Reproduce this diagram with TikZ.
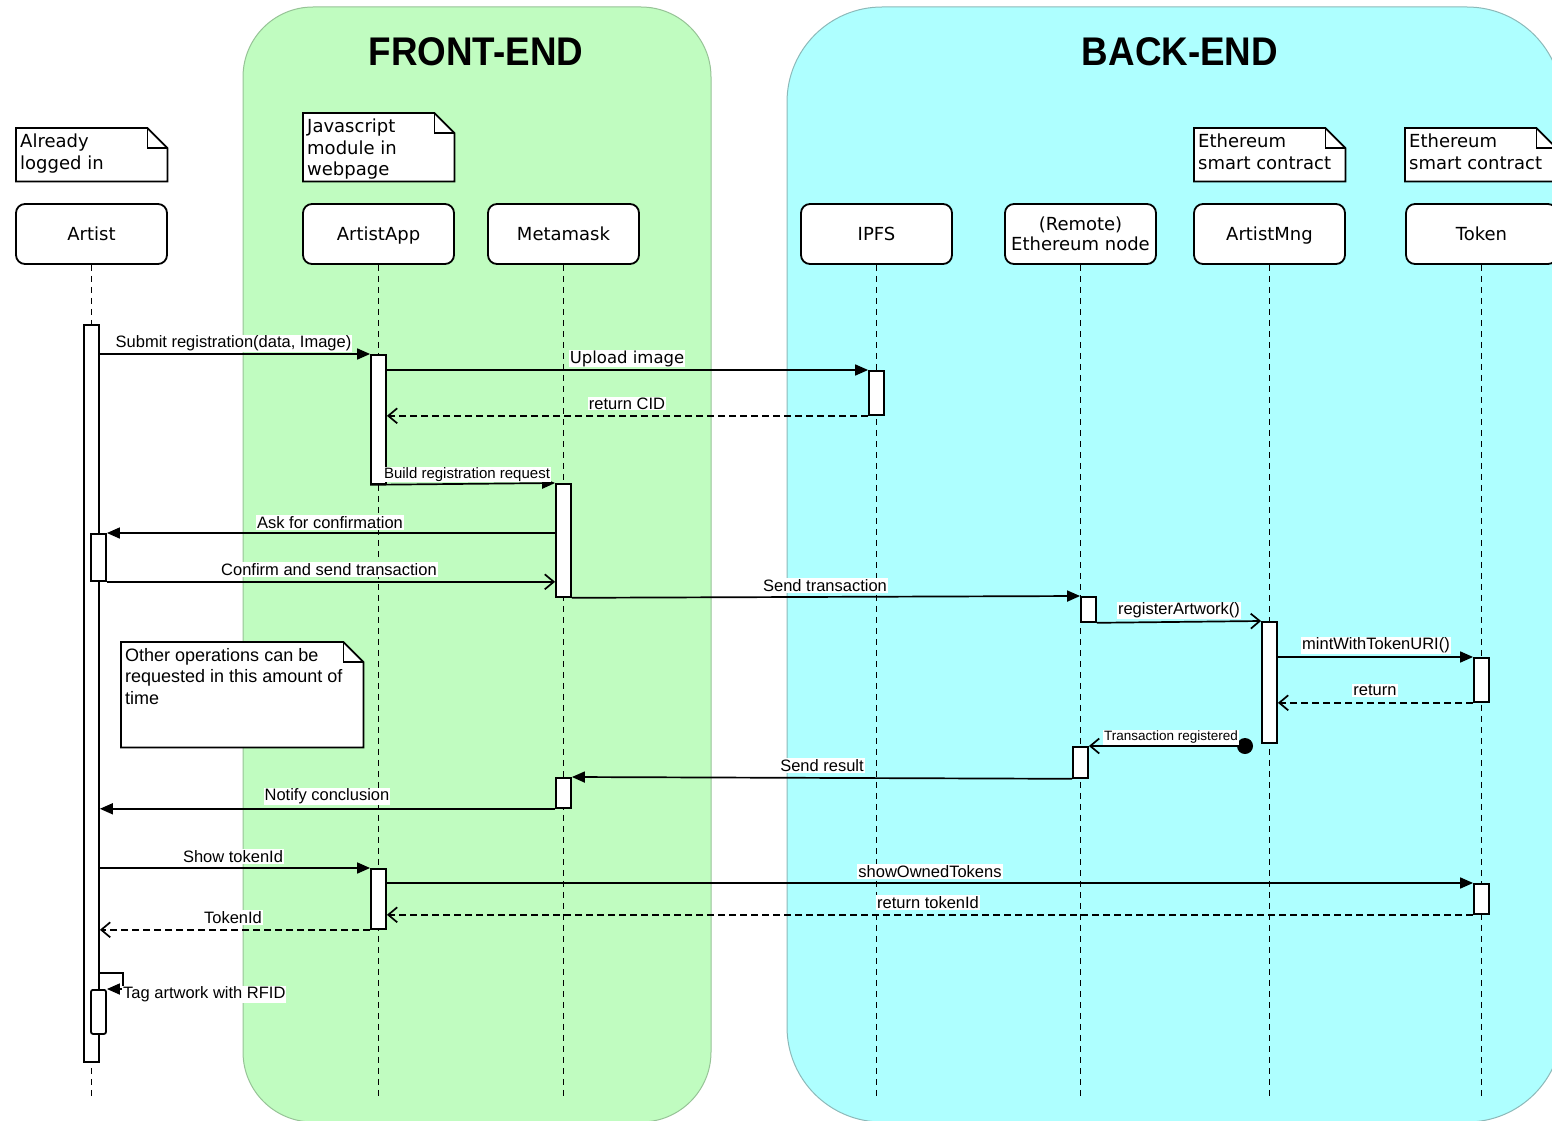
\documentclass[tikz,border=0pt]{standalone}
\usepackage{fontspec}
\setmainfont{Liberation Sans}
\newfontfamily\dejavu{DejaVu Sans}
\usepackage{graphicx}
\usetikzlibrary{arrows.meta,calc}
\definecolor{feGreen}{RGB}{192,252,192}
\definecolor{feEdge}{RGB}{150,195,150}
\definecolor{beCyan}{RGB}{174,255,255}
\definecolor{beEdge}{RGB}{140,185,185}
\newcommand\notefold[1]{%
  \filldraw[fill=white, line width=1.8pt] (#1.north west) -- ([xshift=-20pt]#1.north east) -- ([yshift=-20pt]#1.north east) -- (#1.south east) -- (#1.south west) -- cycle;
  \draw[line width=1.8pt] ([xshift=-20pt]#1.north east) -- ([xshift=-20pt,yshift=-20pt]#1.north east) -- ([yshift=-20pt]#1.north east);}
\begin{document}
\begin{tikzpicture}[x=1pt,y=-1pt,
  headbox/.style={draw, line width=1.8pt, rounded corners=9pt, fill=white, minimum width=151pt, minimum height=60pt, inner sep=0pt, align=center, font=\dejavu\fontsize{18}{21}\selectfont},
  oneline/.style={text height=13pt, text depth=0pt},
  notebg/.style={minimum width=151pt, minimum height=53pt, inner sep=0pt, anchor=north west},
  notetxt/.style={anchor=north west, inner sep=4pt, yshift=-2pt, align=left, font=\dejavu\fontsize{18}{21.5}\selectfont},
  actbox/.style={draw, fill=white, line width=1.8pt, minimum width=15pt, inner sep=0pt, anchor=north},
  lifeline/.style={line width=1.7pt, dash pattern=on 6pt off 5pt},
  callmsg/.style={line width=1.7pt, -{Triangle[length=13pt,width=11pt]}},
  openmsg/.style={line width=1.7pt, -{Straight Barb[length=9pt,width=15pt]}},
  retmsg/.style={line width=1.7pt, dash pattern=on 7pt off 4pt, -{Straight Barb[length=9pt,width=15pt]}},
  msglbl/.style={fill=white, inner sep=1pt, yshift=-1.5pt, font=\fontsize{16.5}{19}\selectfont},
  bigtitle/.style={inner sep=0pt, font=\bfseries\fontsize{40}{44}\selectfont}
]
\useasboundingbox (0,0) rectangle (1552,1121);
% regions
\draw[fill=feGreen, draw=feEdge, line width=1pt, rounded corners=70pt] (243,7) rectangle (711,1122);
\draw[fill=beCyan, draw=beEdge, line width=1pt, rounded corners=95pt] (787,7) rectangle (1562,1122);
\node[bigtitle] (tFront) at (476,52) {\scalebox{0.92}[1]{FRONT-END}};
\node[bigtitle] (tBack) at (1180,52) {\scalebox{0.92}[1]{BACK-END}};
% notes
\node[notebg] (n1) at (16,128) {}; \notefold{n1}
\node[notetxt] (n1t) at (n1.north west) {Already\\logged in};
\node[notebg, minimum height=68pt] (n2) at (303,113) {}; \notefold{n2}
\node[notetxt] (n2t) at (n2.north west) {Javascript\\module in\\webpage};
\node[notebg] (n3) at (1194,128) {}; \notefold{n3}
\node[notetxt] (n3t) at (n3.north west) {Ethereum\\smart contract};
\node[notebg] (n4) at (1405,128) {}; \notefold{n4}
\node[notetxt] (n4t) at (n4.north west) {Ethereum\\smart contract};
% heads
\node[headbox, oneline] (hArtist) at (91.5,234) {Artist};
\node[headbox, oneline] (hApp) at (378.5,234) {ArtistApp};
\node[headbox, oneline] (hMeta) at (563.5,234) {Metamask};
\node[headbox, oneline] (hIPFS) at (876.5,234) {IPFS};
\node[headbox] (hNode) at (1080.5,234) {\raisebox{-2pt}{(Remote)}\\[-1pt]\raisebox{-2pt}{Ethereum node}};
\node[headbox, oneline] (hMng) at (1269.5,234) {ArtistMng};
\node[headbox, oneline] (hToken) at (1481.5,234) {Token};
% lifelines
\coordinate (bottomline) at (0,1100);
\foreach \h in {hArtist,hApp,hMeta,hIPFS,hNode,hMng,hToken}
  \draw[lifeline] (\h.south) -- (\h.south |- bottomline);
% other note
\node[notebg, minimum width=242pt, minimum height=105pt] (n5) at (121,642) {}; \notefold{n5}
\node[notetxt, font=\fontsize{18}{21.5}\selectfont] (n5t) at (n5.north west) {Other operations can be\\requested in this amount of\\time};
% activations
\node[actbox, minimum height=737pt] (aA0) at (91.5,324) {};
\node[actbox, minimum height=47pt] (aA1) at (98.5,533) {};
\node[actbox, minimum height=44pt, rounded corners=2pt] (aA2) at (98.5,989) {};
\node[actbox, minimum height=129pt] (aB1) at (378.5,354) {};
\node[actbox, minimum height=44pt] (aC) at (876.5,370) {};
\node[actbox, minimum height=113pt] (aM1) at (563.5,483) {};
\node[actbox, minimum height=25pt] (aE1) at (1088.5,596) {};
\node[actbox, minimum height=121pt] (aG) at (1269.5,621) {};
\node[actbox, minimum height=44pt] (aT1) at (1481.5,657) {};
\node[actbox, minimum height=31pt] (aE2) at (1080.5,746) {};
\node[actbox, minimum height=30pt] (aM2) at (563.5,777) {};
\node[actbox, minimum height=60pt] (aB2) at (378.5,868) {};
\node[actbox, minimum height=30pt] (aT2) at (1481.5,883) {};
% messages
\draw[callmsg] (aA0.east |- aB1.north) -- (aB1.north west);
\draw[callmsg] (aB1.east |- aC.north) -- (aC.north west);
\draw[retmsg] (aC.south west) -- (aB1.east |- aC.south);
\draw[callmsg] (aB1.south west) -- (aM1.north west);
\draw[callmsg] (aM1.west |- aA1.north) -- (aA1.north east);
\draw[openmsg] (aA1.south east) -- (aM1.west |- aA1.south);
\draw[callmsg] (aM1.south east) -- (aE1.north west);
\draw[openmsg] (aE1.south east) -- (aG.north west);
\draw[callmsg] (aG.east |- aT1.north) -- (aT1.north west);
\draw[retmsg] (aT1.south west) -- (aG.east |- aT1.south);
\coordinate (found) at (1245,746);
\draw[openmsg] (found) -- (aE2.north east);
\fill (found) circle (8pt);
\draw[callmsg] (aE2.south west) -- (aM2.north east);
\draw[callmsg] (aM2.south west) -- (aA0.east |- aM2.south);
\draw[callmsg] (aA0.east |- aB2.north) -- (aB2.north west);
\draw[callmsg] (aB2.east |- aT2.north) -- (aT2.north west);
\draw[retmsg] (aT2.south west) -- (aB2.east |- aT2.south);
\draw[retmsg] (aB2.south west) -- (aA0.east |- aB2.south);
\coordinate (selfy) at (0,973);
\draw[callmsg] (aA0.east |- selfy) -| ($(aA2.north east)+(16,0)$) -- (aA2.north east);
% labels
\node[msglbl] (l1) at (233.5,342) {Submit registration(data, Image)};
\node[msglbl, font=\dejavu\fontsize{16.5}{19}\selectfont] (l2) at (627,357) {Upload image};
\node[msglbl] (l3) at (627,402) {return CID};
\node[msglbl, font=\fontsize{15}{17}\selectfont] (l4) at (467,473) {Build registration request};
\node[msglbl] (l5) at (330,521) {Ask for confirmation};
\node[msglbl] (l6) at (329,568) {Confirm and send transaction};
\node[msglbl] (l7) at (825,584) {Send transaction};
\node[msglbl] (l8) at (1179,609) {registerArtwork()};
\node[msglbl] (l9) at (1376,644) {mintWithTokenURI()};
\node[msglbl] (l10) at (1375,689) {return};
\node[msglbl, font=\fontsize{13.5}{16}\selectfont] (l11) at (1171,736) {Transaction registered};
\node[msglbl] (l12) at (822,764) {Send result};
\node[msglbl] (l13) at (327,795) {Notify conclusion};
\node[msglbl] (l14) at (233,855) {Show tokenId};
\node[msglbl] (l15) at (930,870) {showOwnedTokens};
\node[msglbl] (l16) at (928,901) {return tokenId};
\node[msglbl] (l17) at (233,916) {TokenId};
\node[msglbl, anchor=west] (l18) at (122,993) {Tag artwork with RFID};
\end{tikzpicture}
\end{document}
